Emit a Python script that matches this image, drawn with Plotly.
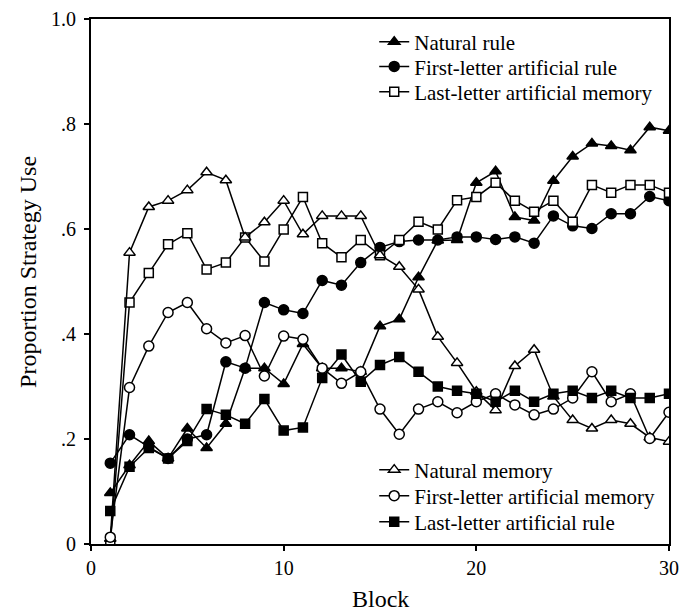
import plotly.graph_objects as go

blocks = list(range(1, 31))

natural_rule = [0.097, 0.150, 0.196, 0.163, 0.220, 0.183, 0.229, 0.335, 0.335, 0.305,
                0.381, 0.335, 0.335, 0.328, 0.415, 0.428, 0.508, 0.578, 0.579, 0.688,
                0.710, 0.623, 0.616, 0.692, 0.738, 0.763, 0.758, 0.750, 0.794, 0.787]
first_letter_rule = [0.154, 0.208, 0.185, 0.163, 0.200, 0.208, 0.347, 0.335, 0.460, 0.446,
                     0.439, 0.502, 0.493, 0.536, 0.565, 0.576, 0.579, 0.579, 0.585, 0.585,
                     0.580, 0.585, 0.573, 0.625, 0.606, 0.601, 0.629, 0.629, 0.662, 0.654]
last_letter_memory = [0.000, 0.460, 0.516, 0.571, 0.592, 0.523, 0.536, 0.584, 0.538, 0.599,
                      0.661, 0.573, 0.546, 0.579, 0.550, 0.579, 0.614, 0.599, 0.655, 0.661,
                      0.688, 0.654, 0.633, 0.654, 0.614, 0.684, 0.669, 0.684, 0.684, 0.669]
natural_memory = [0.010, 0.555, 0.642, 0.654, 0.674, 0.708, 0.693, 0.584, 0.613, 0.654,
                  0.590, 0.625, 0.625, 0.625, 0.550, 0.528, 0.485, 0.395, 0.345, 0.290,
                  0.255, 0.339, 0.370, 0.281, 0.236, 0.220, 0.236, 0.229, 0.203, 0.195]
first_letter_memory = [0.013, 0.298, 0.377, 0.441, 0.460, 0.410, 0.383, 0.397, 0.320, 0.396,
                       0.390, 0.335, 0.306, 0.328, 0.257, 0.209, 0.257, 0.271, 0.250, 0.271,
                       0.286, 0.265, 0.246, 0.257, 0.278, 0.328, 0.271, 0.286, 0.201, 0.251]
last_letter_rule = [0.063, 0.147, 0.183, 0.163, 0.196, 0.257, 0.246, 0.229, 0.276, 0.216,
                    0.222, 0.316, 0.361, 0.309, 0.341, 0.356, 0.328, 0.300, 0.292, 0.286,
                    0.271, 0.292, 0.271, 0.286, 0.292, 0.278, 0.292, 0.278, 0.278, 0.286]

x_ticks = [0, 10, 20, 30]
y_ticks = [0, 0.2, 0.4, 0.6, 0.8, 1.0]
y_tick_labels = ["0", ".2", ".4", ".6", ".8", "1.0"]

FONT = "Liberation Serif"

series = [
    ("Natural rule", natural_rule, "triangle-up", "black"),
    ("First-letter artificial rule", first_letter_rule, "circle", "black"),
    ("Last-letter artificial memory", last_letter_memory, "square", "white"),
    ("Natural memory", natural_memory, "triangle-up", "white"),
    ("First-letter artificial memory", first_letter_memory, "circle", "white"),
    ("Last-letter artificial rule", last_letter_rule, "square", "black"),
]
# legend row positions (paper y of each row centre)
legend_rows = [0.956, 0.909, 0.861, 0.141, 0.0914, 0.0419]
legend_x = 0.490

fig = go.Figure()
legend_layouts = {}
for i, (name, vals, sym, fill) in enumerate(series):
    leg = "legend" if i == 0 else f"legend{i + 1}"
    fig.add_trace(go.Scatter(
        x=blocks, y=vals, name=name, mode="lines+markers",
        line=dict(color="black", width=1.5),
        marker=dict(symbol=sym, size=10 if sym != "square" else 9, color=fill,
                    line=dict(color="black", width=1.5)),
        legend=leg, showlegend=True,
    ))
    legend_layouts[leg] = dict(
        x=legend_x, y=legend_rows[i], xanchor="left", yanchor="middle",
        bgcolor="rgba(0,0,0,0)", borderwidth=0,
        font=dict(family=FONT, size=21, color="black"),
    )

axis_common = dict(
    showline=True, linecolor="black", linewidth=2, mirror=True,
    ticks="outside", ticklen=5, tickwidth=2, tickcolor="black",
    showgrid=False, zeroline=False, automargin=False,
    tickfont=dict(family=FONT, size=20, color="black"),
)

fig.update_layout(
    width=683, height=611,
    margin=dict(l=91, r=14, t=19, b=67),
    paper_bgcolor="white", plot_bgcolor="white",
    showlegend=True,
    font=dict(family=FONT, color="black"),
    xaxis=dict(range=[0, 30], tickvals=x_ticks, ticktext=[str(v) for v in x_ticks],
               **axis_common),
    yaxis=dict(range=[0, 1.0], tickvals=y_ticks, ticktext=y_tick_labels,
               ticklabelstandoff=4, **axis_common),
    annotations=[
        dict(text="Block", xref="paper", yref="paper", x=0.5, y=-0.105,
             xanchor="center", yanchor="middle", showarrow=False,
             font=dict(family=FONT, size=24, color="black")),
        dict(text="Proportion Strategy Use", xref="paper", yref="paper",
             x=-0.110, y=0.519, xanchor="center", yanchor="middle", textangle=-90,
             showarrow=False, font=dict(family=FONT, size=24, color="black")),
    ],
    **legend_layouts,
)

fig.write_html("out.html")
